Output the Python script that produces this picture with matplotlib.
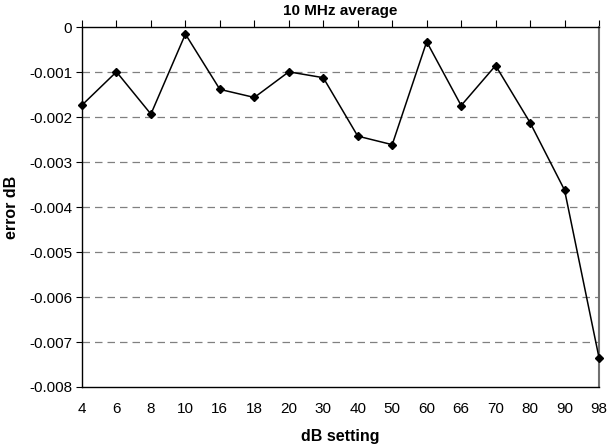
import matplotlib.pyplot as plt

plt.rcParams['font.family'] = ['Liberation Sans', 'DejaVu Sans']

# dB 设置与误差数据
settings = ["4", "6", "8", "10", "16", "18", "20", "30", "40", "50",
            "60", "66", "70", "80", "90", "98"]
error_db = [-0.00173, -0.00099, -0.00193, -0.00015, -0.00138, -0.00156,
            -0.00099, -0.00112, -0.00242, -0.00261, -0.00032, -0.00174,
            -0.00085, -0.00212, -0.00362, -0.00735]
y_ticks = [0, -0.001, -0.002, -0.003, -0.004, -0.005, -0.006, -0.007, -0.008]
y_labels = ["0", "-0.001", "-0.002", "-0.003", "-0.004", "-0.005",
            "-0.006", "-0.007", "-0.008"]

fig = plt.figure(figsize=(6.1, 4.48), dpi=100)
ax = fig.add_axes([0.1344, 0.1362, 0.8476, 0.8028])

x = list(range(len(settings)))
ax.plot(x, error_db, color="black", linewidth=1.1, marker="D",
        markersize=3.8, clip_on=False, zorder=3)

ax.set_xlim(0, len(settings) - 1)
ax.set_ylim(-0.008, 0)
ax.set_xticks(x)
ax.set_xticklabels(settings)
ax.set_yticks(y_ticks)
ax.set_yticklabels(y_labels)

for v in y_ticks[1:-1]:
    ax.axhline(v, color="#808080", linestyle=(0, (6, 4)), linewidth=0.9, zorder=1)

ax.tick_params(axis="x", top=True, bottom=False, labeltop=False,
               labelbottom=True, direction="out", length=5, pad=6,
               labelsize=11)
ax.tick_params(axis="y", direction="out", length=4, pad=3, labelsize=11)

for s in ["left", "top", "bottom"]:
    ax.spines[s].set_color("black")
    ax.spines[s].set_linewidth(1.0)
ax.spines["right"].set_color("#707070")
ax.spines["right"].set_linewidth(1.5)

ax.set_title("10 MHz average", fontsize=11, fontweight="bold", pad=9)
ax.set_xlabel("dB setting", fontsize=11.5, fontweight="bold", labelpad=9)
ax.set_ylabel("error dB", fontsize=11.5, fontweight="bold", labelpad=7)

fig.savefig("out.png", dpi=100)
